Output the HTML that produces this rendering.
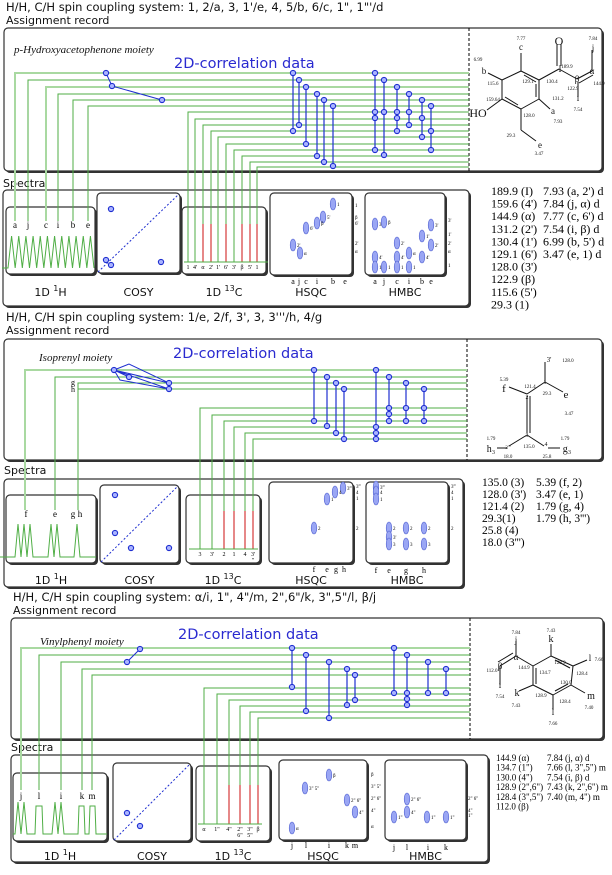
<!DOCTYPE html>
<html><head><meta charset="utf-8">
<style>
html,body{margin:0;padding:0;background:#fff;}
svg{display:block;}
text{font-family:"DejaVu Sans","Liberation Sans",sans-serif;}
.ser{font-family:"Liberation Serif",serif;}
</style></head>
<body>
<svg id="c" width="612" height="875" viewBox="0 0 612 875" xmlns="http://www.w3.org/2000/svg"></svg>
<script>
// ===== Section 1: p-Hydroxyacetophenone =====
const s1_hLab=['a','j','c','i','b','e'];
const s1_hY=[73,80,87,94,100,106];
const s1_hX=[15,28,46,58,73,88];
const s1_cLab=['1',"4'",'α',"2'","1'","6'","3'",'β',"5'",'1'];
const s1_cY=[112,119,125,131,137,144,150,156,162,167];
const s1_cX=[188,195,203,211,218,226,234,242,250,257];
const s1_cRed=[0,0,1,1,0,1,0,1,1,1];
const s1_c13=['189.9 (I)',"159.6 (4')",'144.9 (α)',"131.2 (2')","130.4 (1')","129.1 (6')","128.0 (3')",'122.9 (β)',"115.6 (5')",'29.3 (1)'];
const s1_h1=["7.93 (a, 2') d","7.84 (j, α) d","7.77 (c, 6') d","7.54 (i, β) d","6.99 (b, 5') d","3.47 (e, 1) d"];
// ===== Section 2: Isoprenyl =====
const s2_hLab=['f','e','g','h'];
const s2_hY=[370,377,383,389];
const s2_hX=[25,55,78,78];
const s2_cLab=['3',"3'",'2','1','4',"3'''"];
const s2_cY=[408,415,421,427,433,439];
const s2_cX=[200,212,224,234,245,253];
const s2_cRed=[0,0,1,1,1,1];
const s2_c13=['135.0 (3)',"128.0 (3')",'121.4 (2)','29.3(1)','25.8 (4)',"18.0 (3''')"];
const s2_h1=['5.39 (f, 2)','3.47 (e, 1)','1.79 (g, 4)',"1.79 (h, 3''')"];
// ===== Section 3: Vinylphenyl =====
const s3_hLab=['j','l','i','k','m'];
const s3_hY=[648,655,662,669,675];
const s3_hX=[21,39,61,82,92];
const s3_cLab=['α','1"','4"','2"6"','3"5"','β'];
const s3_cY=[688,694,700,706,712,718];
const s3_cX=[204,217,229,240,250,258];
const s3_cRed=[0,0,1,1,1,1];
const s3_c13=['144.9 (α)','134.7 (1")','130.0 (4")','128.9 (2",6")','128.4 (3",5")','112.0 (β)'];
const s3_h1=['7.84 (j, α) d','7.66 (l, 3",5") m','7.54 (i, β) d','7.43 (k, 2",6") m','7.40 (m, 4") m'];

const svg=document.getElementById('c');
const NS='http://www.w3.org/2000/svg';
function el(tag,a,p){const e=document.createElementNS(NS,tag);for(const k in a)e.setAttribute(k,a[k]);(p||svg).appendChild(e);return e;}
function tx(x,y,s,size,extra,p){const e=el('text',{x:x,y:y,'font-size':size},p);e.textContent=s;if(extra)for(const k in extra)e.setAttribute(k,extra[k]);return e;}
const GREEN='#4fae45', PALE='#a9d9a1', BLUE='#1f2fd0', RED='#cc1010';
function box(x,y,w,h,name,parent){
  const g=el('g',{},parent);
  
  
  el('rect',{x:x+2,y:y+2,width:w,height:h,rx:4,fill:'#333'},g);
  el('rect',{x:x,y:y,width:w,height:h,rx:4,fill:'#fff',stroke:'#333','stroke-width':1.2},g);
  return g;
}
function dot(x,y,p){return el('circle',{cx:x,cy:y,r:2.6,fill:'#aab4ff',stroke:BLUE,'stroke-width':1.1},p);}
function ell(x,y,lab,p){
  el('ellipse',{cx:x,cy:y,rx:2.8,ry:6,fill:'#9aa6f4',stroke:'#5060d0','stroke-width':0.6},p);
  if(lab)tx(x+4,y+2,lab,5,{class:'ser'},p);
}
function drawSection(S){
  const g=el('g',{});
  
  
  tx(S.titleX,S.titleY,S.title,11.5,{fill:'#111'},g);
  tx(S.titleX,S.titleY+13,'Assignment record',11,{fill:'#111'},g);
  box(S.ab[0],S.ab[1],S.ab[2],S.ab[3],'assignment-box',g);
  el('line',{x1:S.dash,y1:S.ab[1],x2:S.dash,y2:S.ab[1]+S.ab[3],stroke:'#000','stroke-dasharray':'3,2','stroke-width':1},g);
  tx(S.moiety[0],S.moiety[1],S.moiety[2],11,{class:'ser','font-style':'italic',fill:'#111'},g);
  tx(S.corr[0],S.corr[1],'2D-correlation data',14.5,{fill:'#2a2ad0'},g);
  tx(S.spLab[0],S.spLab[1],'Spectra',11,{fill:'#111'},g);
  box(S.sb[0],S.sb[1],S.sb[2],S.sb[3],'spectra-box',g);
  const names=['1d-1h-box','cosy-box','1d-13c-box','hsqc-box','hmbc-box'];
  const labs=[['1D ','1','H'],['COSY'],['1D ','13','C'],['HSQC'],['HMBC']];
  S.subs.forEach((b,i)=>{
    box(b[0],b[1],b[2],b[3],names[i],g);
    const t=el('text',{x:b[0]+b[2]/2,y:S.labY,'font-size':11,'text-anchor':'middle',fill:'#111'},g);
    
    
    labs[i].forEach((s,k)=>{const ts=document.createElementNS(NS,'tspan');ts.textContent=s;if(labs[i].length>1&&k==1){ts.setAttribute('dy',-5);ts.setAttribute('font-size',8);}if(k==2)ts.setAttribute('dy',5);t.appendChild(ts);});
  });
  S.hY.forEach((y,i)=>{
    const pale=S.pale.indexOf(i)>=0;
    const l=el('polyline',{points:`${S.dash},${y} ${S.hX[i]},${y} ${S.hX[i]},${S.hBot}`,fill:'none',stroke:pale?PALE:GREEN,'stroke-width':pale?2:1},g);
    
    
  });
  S.cY.forEach((y,i)=>{
    const l=el('polyline',{points:`${S.dash},${y} ${S.cX[i]},${y} ${S.cX[i]},${S.cMid}`,fill:'none',stroke:GREEN,'stroke-width':1},g);
    
    
    el('line',{x1:S.cX[i],y1:S.cMid,x2:S.cX[i],y2:S.cBase,stroke:S.cRed[i]?RED:GREEN,'stroke-width':1},g);
  });
  el('line',{x1:S.cBaseX[0],y1:S.cBase,x2:S.cBaseX[1],y2:S.cBase,stroke:GREEN,'stroke-width':1},g);
  S.cLab.forEach((s,i)=>{
    const parts=s.length>3?[s.slice(0,2),s.slice(2)]:[s];
    parts.forEach((p,k)=>tx(S.cX[i],S.cBase+7+k*6,p,6,{class:'ser','text-anchor':'middle'},g));
  });
  S.hLab.forEach((s,i)=>tx(S.hLabX[i],S.hLabY,s,9,{class:'ser','text-anchor':'middle'},g));
  el('polyline',{points:S.peaks,fill:'none',stroke:GREEN,'stroke-width':1},g);
  const cb=S.subs[1];
  el('line',{x1:cb[0]+1,y1:cb[1]+cb[3]-1,x2:cb[0]+cb[2]-1,y2:cb[1]+1,stroke:BLUE,'stroke-dasharray':'2,2','stroke-width':1},g);
  S.cosySpec.forEach(p=>dot(p[0],p[1],g));
  if(S.cosyPoly) el('polyline',{points:S.cosyPoly,fill:'none',stroke:BLUE,'stroke-width':1},g);
  S.cosyRec.forEach(p=>dot(p[0],p[1],g));
  S.hsqcX.forEach((x,i)=>{
    const l=el('line',{x1:x,y1:S.hsqcY1[i],x2:x,y2:S.hsqcY2[i],stroke:BLUE,'stroke-width':1.2},g);
    
    
    dot(x,S.hsqcY1[i],g);dot(x,S.hsqcY2[i],g);
  });
  S.hmbcX.forEach((x,i)=>{
    const d=S.hmbcDots[i];
    const l=el('line',{x1:x,y1:Math.min(...d),x2:x,y2:Math.max(...d),stroke:BLUE,'stroke-width':1.2},g);
    
    
    d.forEach(y=>dot(x,y,g));
  });
  S.hsqcEll.forEach(e=>ell(e[0],e[1],e[2],g));
  S.hmbcEll.forEach(e=>ell(e[0],e[1],e[2],g));
  S.side.forEach(s=>tx(s[0],s[1],s[2],5,{class:'ser'},g));
  S.bottom.forEach(s=>tx(s[0],s[1],s[2],8,{class:'ser','text-anchor':'middle'},g));
  S.c13.forEach((s,i)=>tx(S.tab[0],S.tab[2]+i*S.tab[3],s,S.tab[4],{class:'ser'},g));
  S.h1.forEach((s,i)=>tx(S.tab[1],S.tab[2]+i*S.tab[3],s,S.tab[4],{class:'ser'},g));
  return g;
}
function zig(x0,x1,base,top,n){let p=`${x0-6},${base} ${x0},${base}`;const w=(x1-x0)/n;for(let i=0;i<n;i++){p+=` ${x0+w*i+w/2},${top} ${x0+w*(i+1)},${base}`;}return p;}

drawSection({name:'section-hydroxyacetophenone',title:'H/H, C/H spin coupling system: 1, 2/a, 3, 1\'/e, 4, 5/b, 6/c, 1", 1"\'/d',titleX:6,titleY:11,
 ab:[4,28,598,143],dash:469,moiety:[14,53,'p-Hydroxyacetophenone moiety'],corr:[174,68],spLab:[3,187],
 sb:[3,190,466,116],subs:[[6,207,89,67],[97,193,83,80],[182,207,84,67],[270,193,82,82],[365,193,80,82]],labY:296,
 hY:s1_hY,hX:s1_hX,hLab:s1_hLab,pale:[0,2],hBot:221,hLabX:s1_hX,hLabY:228,
 cY:s1_cY,cX:s1_cX,cLab:s1_cLab,cRed:s1_cRed,cMid:224,cBase:262,cBaseX:[184,268],
 peaks:zig(8,94,268,236,12),
 cosySpec:[[111,209],[106,260],[111,265],[161,262]],cosyPoly:'106,73 112,86 162,100',cosyRec:[[106,73],[112,86],[162,100]],
 hsqcX:[293,299,306,317,324,333],hsqcY1:s1_hY,hsqcY2:[131,125,144,156,162,166],
 hmbcX:[375,384,397,409,422,431],hmbcDots:[[73,112,118,150],[80,112,155],[87,112,118,131],[94,112,125],[100,118,137],[106,131,150]],
 hsqcEll:[[333,204,'1'],[323,217,"5'"],[317,223,'β'],[306,228,"6'"],[293,245,"2'"],[300,253,'α']],
 hmbcEll:[[375,224,"3'"],[384,222,'β'],[431,225,"3'"],[422,236,"1'"],[431,245,"2'"],[397,243,"2'"],[397,257,"4'"],[409,253,'α'],[422,257,"4'"],[375,257,"4'"],[375,267,'1'],[384,267,'1'],[397,267,'1'],[409,267,'1']],
 side:[[355,207,'1'],[355,219,'β'],[355,225,"6'"],[355,245,"2'"],[355,253,'α'],[448,222,"3'"],[448,236,"1'"],[448,245,"2'"],[448,253,'α'],[448,267,'1']],
 bottom:[[293,284,'a'],[299,284,'j'],[306,284,'c'],[317,284,'i'],[333,284,'b'],[345,284,'e'],[375,284,'a'],[384,284,'j'],[397,284,'c'],[409,284,'i'],[422,284,'b'],[431,284,'e']],
 c13:s1_c13,h1:s1_h1,tab:[491,543,195,12.6,12]});

drawSection({name:'section-isoprenyl',title:"H/H, C/H spin coupling system: 1/e, 2/f, 3', 3, 3'''/h, 4/g",titleX:6,titleY:321,
 ab:[4,339,598,121],dash:467,moiety:[39,361,'Isoprenyl moiety'],corr:[173,358],spLab:[4,474],
 sb:[4,479,459,108],subs:[[6,495,90,68],[100,485,79,78],[186,495,74,68],[269,482,84,81],[366,482,82,81]],labY:584,
 hY:s2_hY,hX:s2_hX,hLab:s2_hLab,pale:[0],hBot:510,hLabX:[26,55,73,80],hLabY:517,
 cY:s2_cY,cX:s2_cX,cLab:s2_cLab,cRed:s2_cRed,cMid:511,cBase:549,cBaseX:[189,258],
 peaks:'0,557 15,557 18,524 21,557 24,524 27,557 30,524 33,557 48,557 51,524 54,557 57,524 60,557 74,557 77,524 80,557 96,557',
 cosySpec:[[115,495],[115,533],[131,548],[169,548]],cosyPoly:'114,370 129,364 169,383 114,370 120,380 169,389 114,370 129,377',cosyRec:[[114,370],[129,377],[169,383],[169,389]],
 hsqcX:[314,327,336,344],hsqcY1:s2_hY,hsqcY2:[421,426,433,439],
 hmbcX:[376,389,406,424],hmbcDots:[[370,427,433,439],[377,408,414,421],[383,408,421],[389,408,421]],
 hsqcEll:[[343,488,"3'''"],[335,492,'4'],[327,499,'1'],[314,528,'2']],
 hmbcEll:[[376,487,"3'''"],[376,492,'4'],[376,499,'1'],[389,528,'2'],[389,537,"3'"],[389,544,'3'],[406,528,'2'],[406,544,'3'],[424,528,'2'],[424,544,'3']],
 side:[[356,488,"3'''"],[356,494,'4'],[356,500,'1'],[356,530,'2'],[451,488,"3'''"],[451,494,'4'],[451,500,'1'],[451,530,'2']],
 bottom:[[314,572,'f'],[327,572,'e'],[336,572,'g'],[344,572,'h'],[376,573,'f'],[389,573,'e'],[406,573,'g'],[424,573,'h'],[73,385,'g'],[73,392,'h']],
 c13:s2_c13,h1:s2_h1,tab:[482,536,486,12,11.5]});

drawSection({name:'section-vinylphenyl',title:'H/H, C/H spin coupling system: α/i, 1", 4"/m, 2",6"/k, 3",5"/l, β/j',titleX:13,titleY:601,
 ab:[11,618,592,121],dash:470,moiety:[40,645,'Vinylphenyl moiety'],corr:[178,639],spLab:[11,751],
 sb:[11,755,477,107],subs:[[13,773,94,68],[113,763,78,78],[196,766,74,75],[279,760,88,80],[385,760,81,80]],labY:860,
 hY:s3_hY,hX:s3_hX,hLab:s3_hLab,pale:[0],hBot:790,hLabX:s3_hX,hLabY:799,
 cY:s3_cY,cX:s3_cX,cLab:s3_cLab,cRed:s3_cRed,cMid:785,cBase:824,cBaseX:[198,262],
 peaks:'13,834 15,834 18,802 21,834 24,802 27,834 35,834 36,806 42,806 43,834 52,834 55,802 58,834 61,802 64,834 78,834 79,806 84,806 85,834 89,834 90,806 95,806 96,834 107,834',
 cosySpec:[[127,813],[140,826]],cosyPoly:'140,649 127,662',cosyRec:[[140,649],[127,662]],
 hsqcX:[292,306,329,347,355],hsqcY1:s3_hY,hsqcY2:[687,711,718,705,700],
 hmbcX:[394,407,428,446],hmbcDots:[[648,693],[655,693,699,705],[662,693],[669,693]],
 hsqcEll:[[329,775,'β'],[305,788,'3" 5"'],[347,800,'2" 6"'],[355,812,'4"'],[292,828,'α']],
 hmbcEll:[[407,799,'2" 6"'],[407,812,'4"'],[394,817,'1"'],[427,817,'1"'],[446,817,'1"']],
 side:[[371,776,'β'],[371,788,'3" 5"'],[371,800,'2" 6"'],[371,812,'4"'],[371,828,'α'],[468,800,'2" 6"'],[468,812,'4"'],[468,817,'1"']],
 bottom:[[292,848,'j'],[306,848,'l'],[329,848,'i'],[347,848,'k'],[355,848,'m'],[394,850,'j'],[407,850,'l'],[428,850,'i'],[446,850,'k']],
 c13:s3_c13,h1:s3_h1,tab:[496,547,761,9.7,9]});

function bonds(list,p){list.forEach(b=>el('line',{x1:b[0],y1:b[1],x2:b[2],y2:b[3],stroke:'#111','stroke-width':1},p));}
function labels(list,p){list.forEach(t=>tx(t[0],t[1],t[2],t[3],{class:'ser','text-anchor':'middle',fill:'#111'},p));}
const st1=el('g',{});


bonds([[521,71,539,80],[539,80,539,99],[539,99,521,109],[521,109,502,99],[502,99,502,80],[502,80,521,71],
 [524,75,536,82],[536,84,536,97],[505,97,518,105],
 [521,71,521,53],[539,80,559,69],[559,69,577,79],[557,66,557,44],[561,66,561,44],[577,79,592,71],[579,83,593,75],[592,71,592,50],[578,82,578,97],
 [539,99,550,109],[502,99,487,110],[502,80,488,73],[521,109,521,130],[521,130,536,141]],st1);
labels([[521,40,'7.77',5],[521,50,'c',9],[559,45,'O',12],[593,40,'7.84',5],[593,51,'j',9],[560,72,'I',9],[592,74,'α',9],[577,82,'β',9],
 [599,85,'144.9',5],[567,68,'189.9',5],[552,83,'130.4',5],[558,100,'131.2',5],[528,83,'129.1',5],[493,85,'115.6',5],[478,61,'6.99',5],[484,74,'b',9],
 [493,101,'159.64',5],[573,90,'122.9',5],[578,101,'i',9],[578,111,'7.54',5],[553,114,'a',9],[558,123,'7.93',5],[478,117,'HO',12],
 [529,117,'128.0',5],[511,137,'29.3',5],[540,148,'e',9],[539,155,'3.47',5]],st1);
const st2=el('g',{});


bonds([[545,382,545,362],[545,382,563,392],[545,382,527,394],[527,394,509,387],[527,396,527,433],[530,396,530,433],[527,435,509,446],[497,448,507,448],[527,435,544,446],[548,448,560,448]],st2);
labels([[549,362,"3'",7],[568,362,'128.0',5],[504,392,'f',11],[504,381,'5.39',5],[566,398,'e',11],[569,415,'3.47',5],[530,388,'121.4',5],[547,395,'29.3',5],
 [491,452,'h₃',10],[491,440,'1.79',5],[508,449,"3'''",5],[508,458,'18.0',5],[529,448,'135.0',5],[546,446,'4',6],[547,458,'25.8',5],[567,452,'g₃',10],[565,440,'1.79',5],[527,399,'2',6],[527,437,'3',6],[545,384,'1',6]],st2);
const st3=el('g',{});


bonds([[516,656,516,641],[516,656,500,666],[513,653,498,662],[500,666,500,685],[516,656,533,666],
 [533,666,551,656],[551,656,573,666],[573,666,571,685],[571,685,553,695],[553,695,533,685],[533,685,533,666],
 [536,684,536,668],[555,660,570,668],[555,691,568,684],
 [551,656,551,644],[573,666,587,660],[571,685,585,693],[553,695,553,710],[533,685,519,691]],st3);
labels([[516,634,'7.84',5],[516,643,'j',9],[492,672,'112.0',5],[500,669,'β',9],[516,660,'α',9],[524,669,'144.9',5],[500,688,'i',9],[500,698,'7.54',5],
 [551,632,'7.43',5],[551,642,'k',10],[560,664,'128.9',5],[590,661,'l',9],[599,661,'7.66',5],[582,675,'128.4',5],[545,674,'134.7',5],[566,684,'130.0',5],
 [591,699,'m',10],[589,709,'7.40',5],[517,696,'k',10],[516,707,'7.43',5],[541,697,'128.9',5],[565,703,'128.4',5],[553,715,'l',9],[553,725,'7.66',5]],st3);
</script>
</body></html>
